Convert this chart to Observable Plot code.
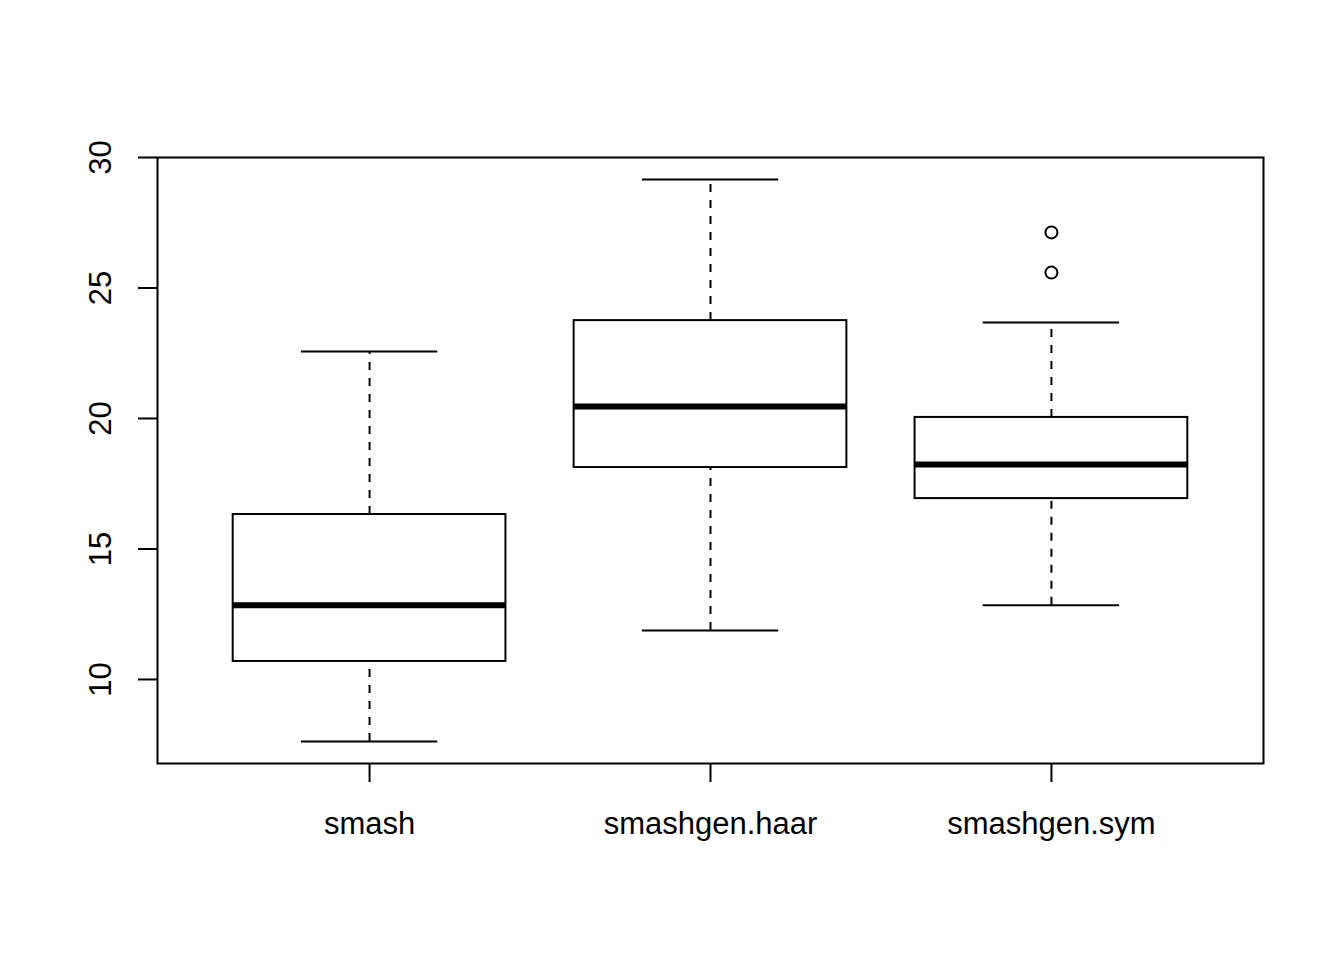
<!DOCTYPE html>
<html><head><meta charset="utf-8">
<script src="https://cdn.jsdelivr.net/npm/d3@7"></script>
<script src="https://cdn.jsdelivr.net/npm/@observablehq/plot@0.6"></script>
<style>body{margin:0;background:#fff}</style>
</head><body><div id="chart"></div>
<script>
const methods = ["smash", "smashgen.haar", "smashgen.sym"];
const lowerWhisker = [7.62, 11.88, 12.84];
const q1 = [10.69, 18.12, 16.93];
const median = [12.84, 20.46, 18.24];
const q3 = [16.32, 23.75, 20.04];
const upperWhisker = [22.57, 29.16, 23.68];
const outlierMethod = ["smashgen.sym", "smashgen.sym"];
const outlierValue = [27.13, 25.59];
const yTicks = [10, 15, 20, 25, 30];

const stats = methods.map((m, i) => ({
  method: m, pos: i + 1,
  lo: lowerWhisker[i], q1: q1[i], med: median[i], q3: q3[i], hi: upperWhisker[i]
}));
const outliers = outlierMethod.map((m, i) => ({pos: methods.indexOf(m) + 1, value: outlierValue[i]}));

const chart = Plot.plot({
  width: 1344, height: 960,
  marginLeft: 157, marginRight: 81, marginTop: 157, marginBottom: 197,
  style: {fontFamily: "'Liberation Sans', Arial, sans-serif", fontSize: "31px", background: "white", color: "black"},
  x: {domain: [0.378, 3.622], axis: null, label: null},
  y: {domain: [6.78, 30.0], axis: null, label: null},
  marks: [
    Plot.ruleX(stats, {x: "pos", y1: "q3", y2: "hi", stroke: "black", strokeWidth: 2, strokeDasharray: "8,8"}),
    Plot.ruleX(stats, {x: "pos", y1: "lo", y2: "q1", stroke: "black", strokeWidth: 2, strokeDasharray: "8,8"}),
    Plot.ruleY(stats, {y: "hi", x1: d => d.pos - 0.2, x2: d => d.pos + 0.2, stroke: "black", strokeWidth: 2}),
    Plot.ruleY(stats, {y: "lo", x1: d => d.pos - 0.2, x2: d => d.pos + 0.2, stroke: "black", strokeWidth: 2}),
    Plot.rect(stats, {x1: d => d.pos - 0.4, x2: d => d.pos + 0.4, y1: "q1", y2: "q3", fill: "white", stroke: "black", strokeWidth: 2}),
    Plot.ruleY(stats, {y: "med", x1: d => d.pos - 0.4, x2: d => d.pos + 0.4, stroke: "black", strokeWidth: 6}),
    Plot.dot(outliers, {x: "pos", y: "value", r: 6, stroke: "black", strokeWidth: 2, fill: "none"}),
    Plot.frame({stroke: "black", strokeWidth: 2}),
    Plot.axisX({ticks: [1, 2, 3], tickFormat: d => methods[d - 1], tickSize: 19, tickPadding: 29, strokeWidth: 2, fontSize: 31, label: null}),
    Plot.axisY({ticks: yTicks, tickFormat: d => String(d), tickSize: 19, tickPadding: 28, tickRotate: -90, strokeWidth: 2, fontSize: 31, label: null})
  ]
});
document.getElementById("chart").appendChild(chart);
</script>
</body></html>
